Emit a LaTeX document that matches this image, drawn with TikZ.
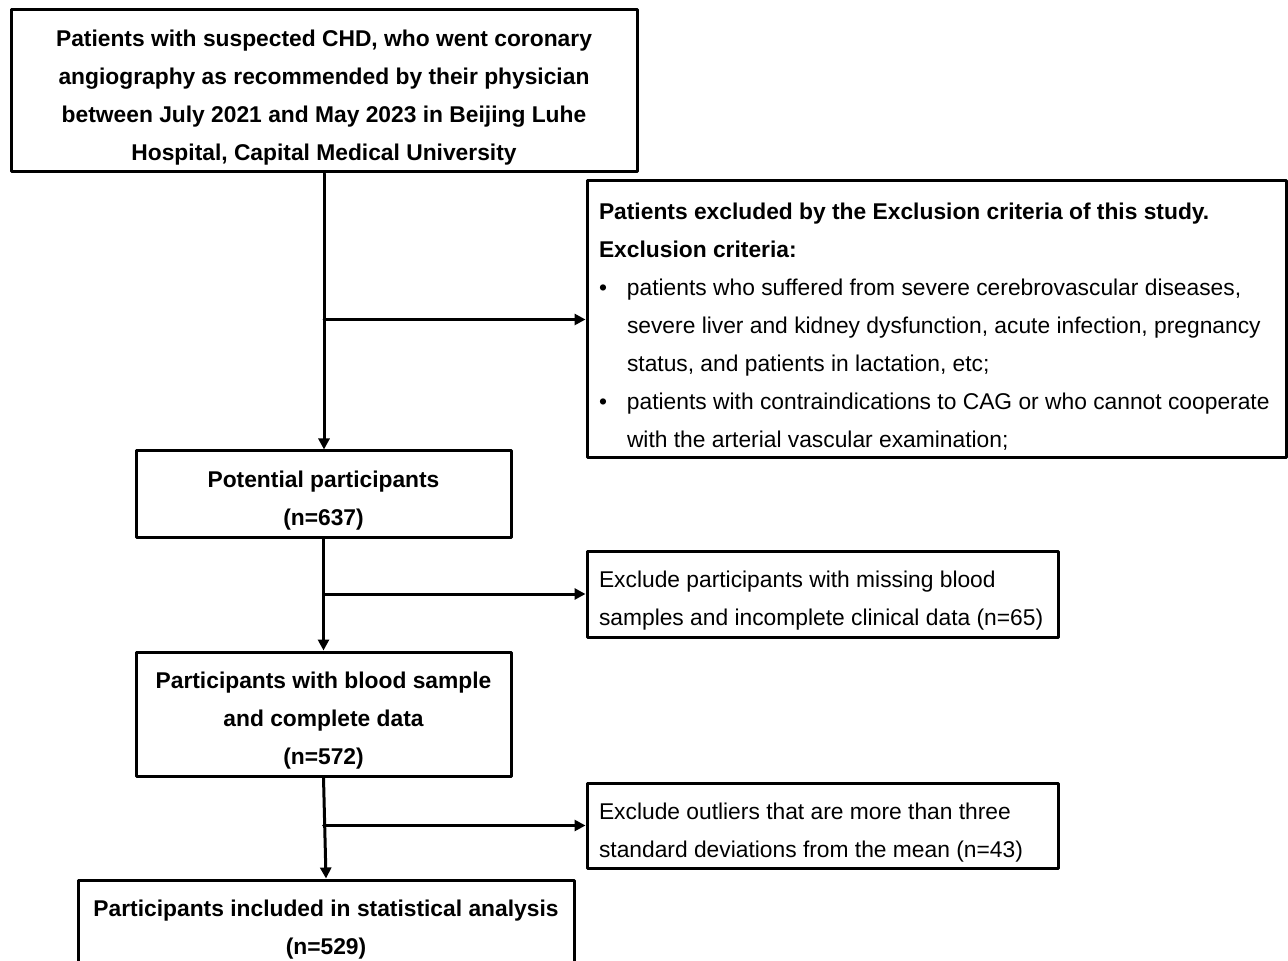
\documentclass[tikz,border=0pt]{standalone}
\usepackage{fontspec}
\setmainfont{Liberation Sans}
\usetikzlibrary{arrows.meta}

\begin{document}
\begin{tikzpicture}[line cap=round,line join=round,>={Triangle[length=5.5pt,width=5.5pt]},x=0.5pt,y=-0.5pt,
  box/.style={draw,line width=1.5pt,inner sep=0pt,font=\fontsize{11.4}{19}\selectfont,
    execute at begin node={\rule{0pt}{15.3pt}}},
  cbox/.style={box,align=flush center},
  lbox/.style={box,align=flush left,inner xsep=6pt},
  link/.style={->,line width=1.5pt}]
\clip (0,0) rectangle (1288,961);
% boxes
\node[cbox,text width=313pt,minimum height=81pt] (start) at (324,91) {\bfseries Patients with suspected CHD, who went coronary\\ angiography as recommended by their physician\\ between July 2021 and May 2023 in Beijing Luhe\\ Hospital, Capital Medical University};
\node[lbox,text width=337.5pt,minimum height=138.5pt] (excl) at (936.5,319.5) {\textbf{Patients excluded by the Exclusion criteria of this study.}\\ \textbf{Exclusion criteria:}\\ \makebox[14pt][l]{\textbullet}patients who suffered from severe cerebrovascular diseases,\\ \hspace*{14pt}severe liver and kidney dysfunction, acute infection, pregnancy\\ \hspace*{14pt}status, and patients in lactation, etc;\\ \makebox[14pt][l]{\textbullet}patients with contraindications to CAG or who cannot cooperate\\ \hspace*{14pt}with the arterial vascular examination;};
\node[cbox,text width=187.5pt,minimum height=43pt] (pot) at (323.5,494) {\bfseries Potential participants\\ (n=637)};
\node[lbox,text width=223.5pt,minimum height=43pt] (miss) at (822.5,594) {Exclude participants with missing blood\\ samples and incomplete clinical data (n=65)};
\node[cbox,text width=187.5pt,minimum height=62pt] (blood) at (323.5,714) {\bfseries Participants with blood sample\\ and complete data\\ (n=572)};
\node[lbox,text width=223.5pt,minimum height=42.5pt] (outl) at (822.5,825.5) {Exclude outliers that are more than three\\ standard deviations from the mean (n=43)};
\node[cbox,text width=248pt,minimum height=43pt] (final) at (326,923) {\bfseries Participants included in statistical analysis\\ (n=529)};
% arrows
\draw[link] (start.south) -- (start.south |- pot.north);
\draw[link] (start.south |- excl.west) -- (excl.west);
\draw[link] (pot.south) -- (pot.south |- blood.north);
\draw[link] (pot.south |- miss.west) -- (miss.west);
\draw[link] (blood.south) -- (final.north);
\draw[link] (blood.south |- outl.west) -- (outl.west);
\end{tikzpicture}
\end{document}
